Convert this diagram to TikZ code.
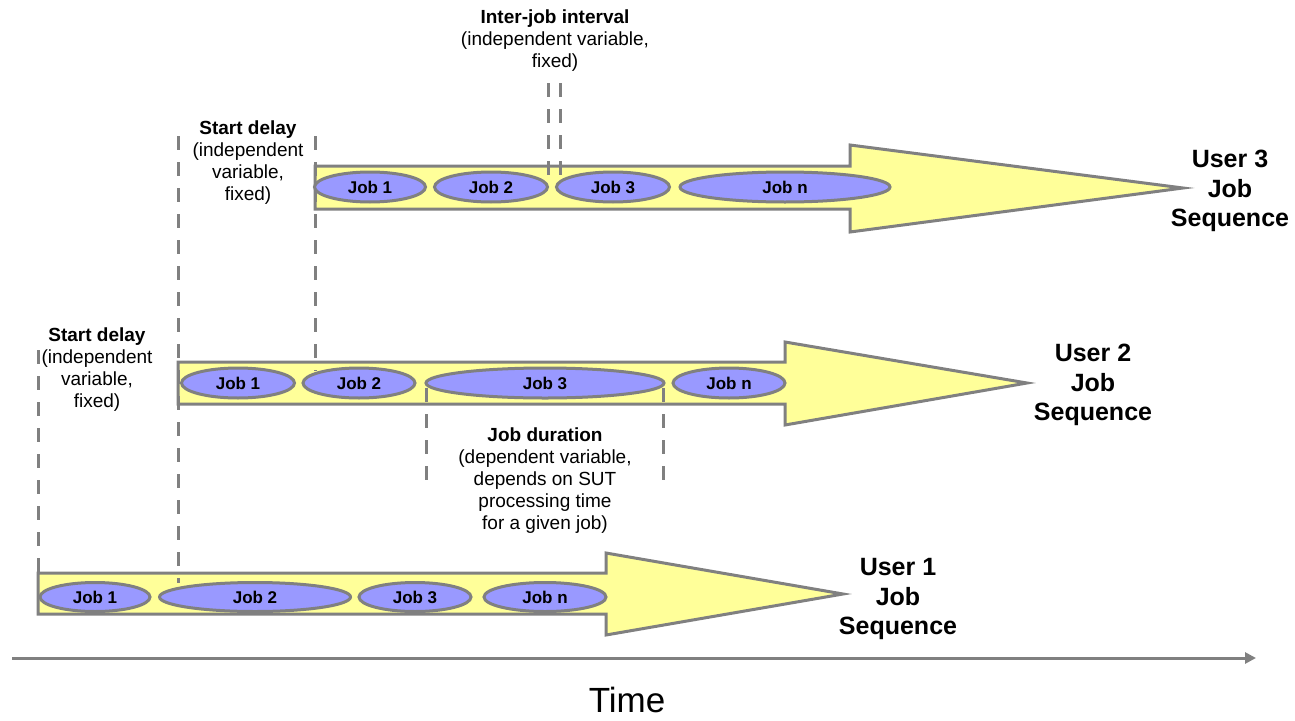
\documentclass[tikz,border=0pt]{standalone}
\usepackage{fontspec}
\setmainfont{Liberation Sans}
\usetikzlibrary{shapes.geometric,arrows.meta}
\definecolor{shaftyellow}{HTML}{FFFF99}
\definecolor{jobblue}{HTML}{9999FF}
\definecolor{linegray}{HTML}{808080}
\tikzset{
  seqarrow/.style={draw=linegray, fill=shaftyellow, line width=3pt, line join=miter},
  job/.style={ellipse, draw=linegray, fill=jobblue, line width=3pt, inner sep=0pt,
    font=\fontsize{17}{20}\selectfont\bfseries},
  guide/.style={draw=linegray, line width=3pt, dash pattern=on 14pt off 12pt},
  note/.style={align=center, inner sep=0pt, font=\fontsize{19}{22}\selectfont},
  usertitle/.style={align=center, inner sep=0pt, font=\fontsize{25}{29.5}\selectfont\bfseries},
}
\begin{document}
\begin{tikzpicture}[x=1pt,y=-1pt]
\useasboundingbox (0,0) rectangle (1295,720);

% time axis
\coordinate (t0) at (12,658);
\coordinate (t1) at (1256,658);
\draw[draw=linegray, line width=3pt, -{Triangle[length=11pt,width=11pt]}] (t0) -- (t1);
\node[inner sep=0pt, font=\fontsize{35}{40}\selectfont] (time) at (627,700) {Time};

% sequence arrows
\draw[seqarrow] (38,573) -- (606,573) -- (606,553) -- (843,594) -- (606,635) -- (606,614) -- (38,614) -- cycle;
\draw[seqarrow] (178,362) -- (785,362) -- (785,342) -- (1027,383) -- (785,425) -- (785,404) -- (178,404) -- cycle;
\draw[seqarrow] (315,166) -- (850,166) -- (850,145) -- (1183,188) -- (850,232) -- (850,209) -- (315,209) -- cycle;

% guide lines
\coordinate (g1a) at (38,350);   \coordinate (g1b) at (38,575);
\coordinate (g2a) at (178,136);  \coordinate (g2b) at (178,583);
\coordinate (g3a) at (315,136);  \coordinate (g3b) at (315,371);
\coordinate (g4a) at (548,83);   \coordinate (g4b) at (548,180);
\coordinate (g5a) at (560,83);   \coordinate (g5b) at (560,180);
\coordinate (g6a) at (426,388);  \coordinate (g6b) at (426,486);
\coordinate (g7a) at (663,388);  \coordinate (g7b) at (663,486);
\foreach \n in {1,...,7} \draw[guide] (g\n a) -- (g\n b);

% user 1 jobs
\node[job, minimum width=110pt, minimum height=29pt] (u1j1) at (95,597) {Job 1};
\node[job, minimum width=191pt, minimum height=29pt] (u1j2) at (255,597) {Job 2};
\node[job, minimum width=112pt, minimum height=29pt] (u1j3) at (415,597) {Job 3};
\node[job, minimum width=122pt, minimum height=29pt] (u1jn) at (545,597) {Job n};

% user 2 jobs
\node[job, minimum width=113pt, minimum height=30pt] (u2j1) at (238,383) {Job 1};
\node[job, minimum width=112pt, minimum height=30pt] (u2j2) at (359,383) {Job 2};
\node[job, minimum width=238pt, minimum height=30pt] (u2j3) at (545,383) {Job 3};
\node[job, minimum width=112pt, minimum height=30pt] (u2jn) at (729,383) {Job n};

% user 3 jobs
\node[job, minimum width=111pt, minimum height=30pt] (u3j1) at (370,187) {Job 1};
\node[job, minimum width=113pt, minimum height=30pt] (u3j2) at (491,187) {Job 2};
\node[job, minimum width=113pt, minimum height=30pt] (u3j3) at (613,187) {Job 3};
\node[job, minimum width=210pt, minimum height=30pt] (u3jn) at (785,187) {Job n};

% titles
\node[usertitle] (user1) at (898,599) {User 1\\Job\\Sequence};
\node[usertitle] (user2) at (1093,385) {User 2\\Job\\Sequence};
\node[usertitle] (user3) at (1230,191) {User 3\\Job\\Sequence};

% notes
\node[note] (interjob) at (555,41) {\textbf{Inter-job interval}\\(independent variable,\\fixed)};
\node[note] (delay2) at (248,163) {\textbf{Start delay}\\(independent\\variable,\\fixed)};
\node[note] (delay1) at (97,370) {\textbf{Start delay}\\(independent\\variable,\\fixed)};
\node[note] (duration) at (545,481) {\textbf{Job duration}\\(dependent variable,\\depends on SUT\\processing time\\for a given job)};
\end{tikzpicture}
\end{document}
